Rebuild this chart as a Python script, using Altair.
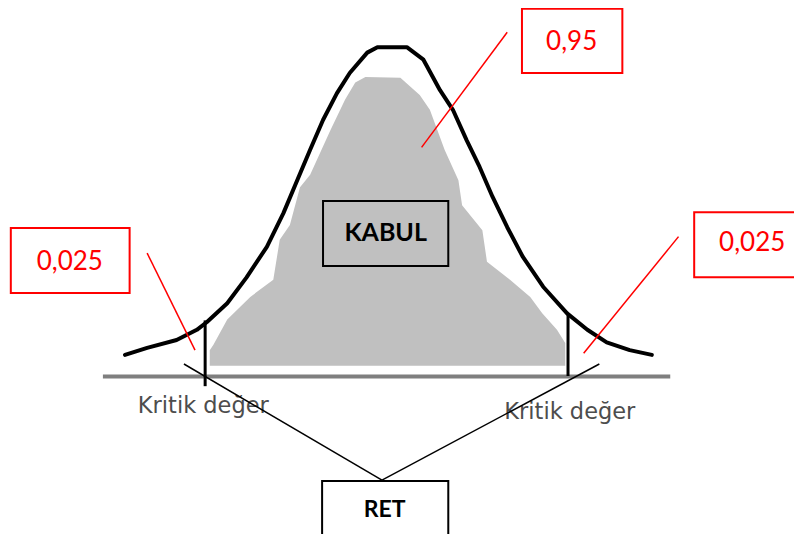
import altair as alt
import pandas as pd

# Normal curve (z, density)
curve_z = [-2.85, -2.61, -2.29, -2.07, -1.96, -1.74, -1.53, -1.31, -1.13, -0.98, -0.84, -0.70,
           -0.55, -0.41, -0.22, -0.11, 0.21, 0.39, 0.57, 0.71, 0.86, 1.00, 1.14, 1.30, 1.47,
           1.69, 1.95, 2.17, 2.38, 2.63, 2.87]
curve_d = [0.004, 0.013, 0.023, 0.036, 0.046, 0.070, 0.103, 0.142, 0.185, 0.227, 0.266, 0.304,
           0.338, 0.364, 0.390, 0.397, 0.397, 0.381, 0.342, 0.317, 0.278, 0.244, 0.206, 0.167,
           0.129, 0.091, 0.057, 0.036, 0.020, 0.010, 0.004]

# Grey "acceptance" fill (top edge)
fill_z = [-1.93, -1.89, -1.74, -1.49, -1.24, -1.17, -1.06, -0.95, -0.84, -0.62, -0.46, -0.35,
          -0.24, 0.14, 0.35, 0.46, 0.62, 0.77, 0.81, 1.03, 1.08, 1.33, 1.55, 1.68, 1.84, 1.93]
fill_d = [0.010, 0.017, 0.049, 0.078, 0.100, 0.151, 0.170, 0.218, 0.234, 0.291, 0.330, 0.352,
          0.359, 0.358, 0.336, 0.317, 0.266, 0.227, 0.195, 0.163, 0.123, 0.100, 0.078, 0.057,
          0.036, 0.019]
fill_bottom = -0.010

critical_z = [-1.98, 1.96]
critical_top = [0.048, 0.057]
critical_bottom = [-0.036, -0.023]
critical_label_z = [-2.00, 1.98]
critical_label_d = [-0.0702, -0.0779]
critical_label = ["Kritik değer", "Kritik değer"]

baseline_z = [-3.09, 3.07]
baseline_d = -0.0236

# red callouts: probabilities
prob_label = ["0,95", "0,025", "0,025"]
prob_box_x1 = [1.46, -4.09, 3.33]
prob_box_x2 = [2.55, -2.80, 4.90]
prob_box_y1 = [0.446, 0.166, 0.186]
prob_box_y2 = [0.364, 0.083, 0.103]
prob_text_x = [2.00, -3.45, 3.96]
prob_text_y = [0.404, 0.123, 0.147]
prob_line_x1 = [1.30, -2.61, 3.16]
prob_line_y1 = [0.416, 0.134, 0.155]
prob_line_x2 = [0.37, -2.09, 2.13]
prob_line_y2 = [0.269, 0.010, 0.006]

# black boxes: decisions
dec_label = ["KABUL", "RET"]
dec_box_x1 = [-0.70, -0.71]
dec_box_x2 = [0.66, 0.66]
dec_box_y1 = [0.2005, -0.157]
dec_box_y2 = [0.1175, -0.260]
dec_text_x = [-0.02, -0.03]
dec_text_y = [0.160, -0.194]
dec_fill = ["#c0c0c0", "#ffffff"]
dec_size = [25, 23]

ret_line_x1 = [-2.21, 2.30]
ret_line_y1 = [-0.0077, -0.0077]
ret_line_x2 = [-0.06, -0.06]
ret_line_y2 = [-0.156, -0.156]

xs = alt.Scale(domain=[-4.1205, 4.4137], nice=False, zero=False)
ys = alt.Scale(domain=[-0.2248, 0.4470], nice=False, zero=False)

def X(f):
    return alt.X(f, type="quantitative", scale=xs, axis=None)

def Y(f):
    return alt.Y(f, type="quantitative", scale=ys, axis=None)

curve_df = pd.DataFrame({"z": curve_z, "d": curve_d})
fill_df = pd.DataFrame({"z": fill_z, "d": fill_d, "b": [fill_bottom] * len(fill_z)})
crit_df = pd.DataFrame({"z": critical_z, "t": critical_top, "b": critical_bottom,
                        "lz": critical_label_z, "ld": critical_label_d, "lab": critical_label})
base_df = pd.DataFrame({"z1": [baseline_z[0]], "z2": [baseline_z[1]], "d": [baseline_d]})
prob_df = pd.DataFrame({"lab": prob_label, "x1": prob_box_x1, "x2": prob_box_x2,
                        "y1": prob_box_y1, "y2": prob_box_y2, "tx": prob_text_x, "ty": prob_text_y,
                        "lx1": prob_line_x1, "ly1": prob_line_y1, "lx2": prob_line_x2, "ly2": prob_line_y2})
dec_df = pd.DataFrame({"lab": dec_label, "x1": dec_box_x1, "x2": dec_box_x2, "y1": dec_box_y1,
                       "y2": dec_box_y2, "tx": dec_text_x, "ty": dec_text_y, "fill": dec_fill,
                       "size": dec_size})
ret_df = pd.DataFrame({"x1": ret_line_x1, "y1": ret_line_y1, "x2": ret_line_x2, "y2": ret_line_y2})

area = alt.Chart(fill_df).mark_area(color="#c0c0c0", clip=False).encode(
    x=X("z"), y=Y("d"), y2="b")
line = alt.Chart(curve_df).mark_line(color="#000000", strokeWidth=4, strokeJoin="round",
                                     strokeCap="round", clip=False).encode(x=X("z"), y=Y("d"))
base = alt.Chart(base_df).mark_rule(color="#7f7f7f", strokeWidth=4).encode(
    x=X("z1"), x2="z2", y=Y("d"))
crit = alt.Chart(crit_df).mark_rule(color="#000000", strokeWidth=3).encode(
    x=X("z"), y=Y("t"), y2="b")
crit_txt = alt.Chart(crit_df).mark_text(font="DejaVu Sans", fontSize=22.5, color="#4d4d4d",
                                        baseline="alphabetic").encode(
    x=X("lz"), y=Y("ld"), text="lab")
ret_lines = alt.Chart(ret_df).mark_rule(color="#000000", strokeWidth=1.5).encode(
    x=X("x1"), y=Y("y1"), x2="x2", y2="y2")
red_lines = alt.Chart(prob_df).mark_rule(color="#ff0000", strokeWidth=1.5).encode(
    x=X("lx1"), y=Y("ly1"), x2="lx2", y2="ly2")
red_boxes = alt.Chart(prob_df).mark_rect(fill="#ffffff", stroke="#ff0000", strokeWidth=2,
                                         clip=False).encode(
    x=X("x1"), x2="x2", y=Y("y1"), y2="y2")
red_txt = alt.Chart(prob_df).mark_text(font="Lato", fontSize=26, color="#ff0000").encode(
    x=X("tx"), y=Y("ty"), text="lab")
dec_boxes = alt.Chart(dec_df).mark_rect(stroke="#000000", strokeWidth=2, clip=False).encode(
    x=X("x1"), x2="x2", y=Y("y1"), y2="y2",
    fill=alt.Fill("fill:N", scale=None))
dec_txt = alt.Chart(dec_df).mark_text(font="Lato", fontWeight="bold", color="#000000").encode(
    x=X("tx"), y=Y("ty"), text="lab", size=alt.Size("size:Q", scale=None))

chart = alt.layer(area, line, base, crit, crit_txt, ret_lines, red_lines, red_boxes, red_txt,
                  dec_boxes, dec_txt).properties(
    width=786, height=526,
    padding=0,
    autosize=alt.AutoSizeParams(type="none"),
).configure_view(stroke=None)

chart.save("out.html", embed_options={"renderer": "svg", "actions": False})
